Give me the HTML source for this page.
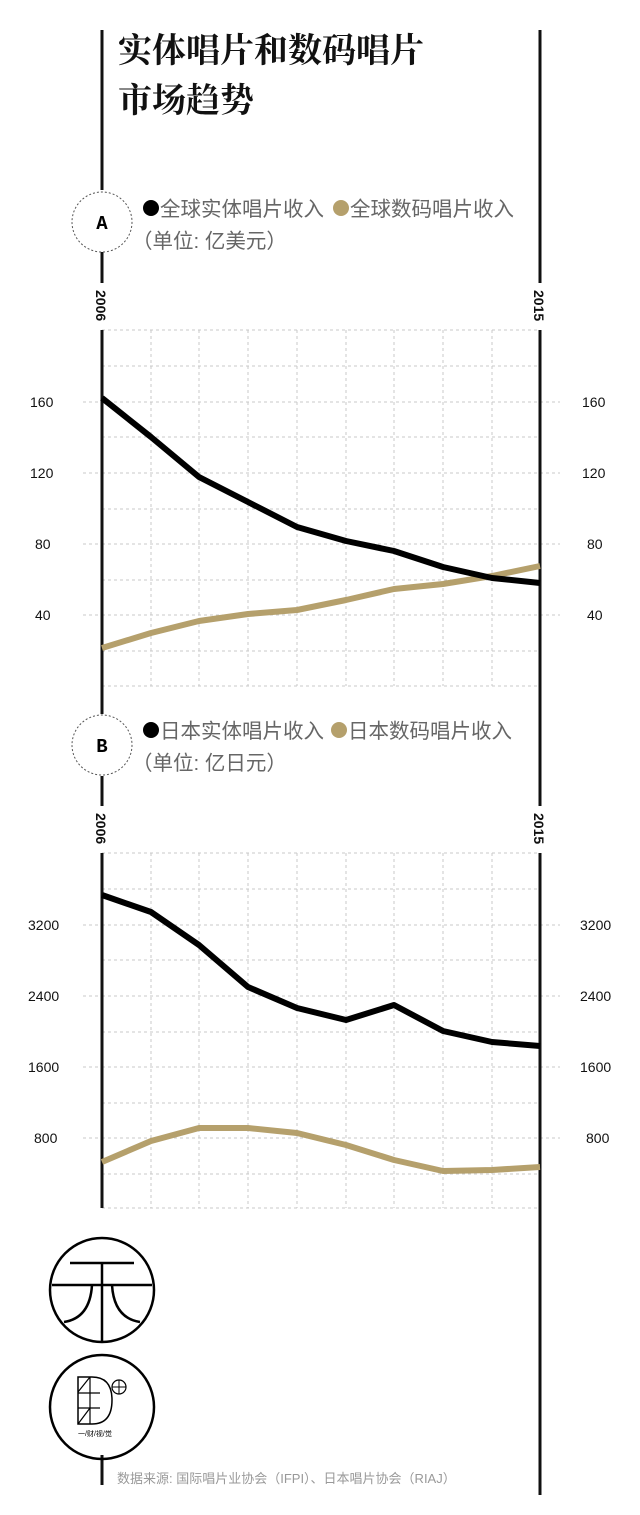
<!DOCTYPE html>
<html><head><meta charset="utf-8"><style>
html,body{margin:0;padding:0;background:#fff;}
svg{display:block;}
.t{font-family:"Liberation Serif","Noto Serif CJK SC",serif;}
.s{font-family:"Liberation Sans","Noto Sans CJK SC",sans-serif;}
</style></head><body>
<svg width="640" height="1515" viewBox="0 0 640 1515" xmlns="http://www.w3.org/2000/svg">
<rect width="640" height="1515" fill="#fff"/>
<g stroke="#c8c8c8" stroke-width="1" stroke-dasharray="3,3" fill="none">
<path d="M102 330H540M102 366H540M102 402H540M102 437H540M102 473H540M102 509H540M102 544H540M102 580H540M102 615H540M102 651H540M102 686H540"/>
<path d="M151 330V686M199 330V686M248 330V686M297 330V686M346 330V686M394 330V686M443 330V686M492 330V686"/>
<path d="M83 402H102M83 473H102M83 544H102M83 615H102M540 402H560M540 473H560M540 544H560M540 615H560"/>
<path d="M102 853H540M102 889H540M102 925H540M102 960H540M102 996H540M102 1032H540M102 1067H540M102 1103H540M102 1138H540M102 1174H540M102 1208H540"/>
<path d="M151 853V1208M199 853V1208M248 853V1208M297 853V1208M346 853V1208M394 853V1208M443 853V1208M492 853V1208"/>
<path d="M83 925H102M83 996H102M83 1067H102M83 1138H102M540 925H560M540 996H560M540 1067H560M540 1138H560"/>
</g>
<g stroke="#111" stroke-width="3">
<line x1="102" y1="30" x2="102" y2="190"/>
<line x1="102" y1="252" x2="102" y2="283"/>
<line x1="102" y1="330" x2="102" y2="714"/>
<line x1="102" y1="776" x2="102" y2="806"/>
<line x1="102" y1="853" x2="102" y2="1208"/>
<line x1="540" y1="30" x2="540" y2="283"/>
<line x1="540" y1="330" x2="540" y2="806"/>
<line x1="540" y1="853" x2="540" y2="1495"/>
<line x1="102" y1="1455" x2="102" y2="1485"/>
</g>
<text class="t" x="118" y="62" font-size="34" font-weight="bold" fill="#111">实体唱片和数码唱片</text>
<text class="t" x="118" y="112" font-size="34" font-weight="bold" fill="#111">市场趋势</text>
<circle cx="102" cy="222" r="30" fill="#fff" stroke="#555" stroke-width="1" stroke-dasharray="2,2"/>
<text x="102" y="229" font-family="Liberation Mono,monospace" font-weight="bold" font-size="19" text-anchor="middle">A</text>
<circle cx="102" cy="745" r="30" fill="#fff" stroke="#555" stroke-width="1" stroke-dasharray="2,2"/>
<text x="102" y="752" font-family="Liberation Mono,monospace" font-weight="bold" font-size="19" text-anchor="middle">B</text>
<circle cx="151" cy="208" r="8" fill="#000"/>
<text class="s" x="160" y="216" font-size="20.5" fill="#666">全球实体唱片收入</text>
<circle cx="341" cy="208" r="8" fill="#b5a06c"/>
<text class="s" x="350" y="216" font-size="20.5" fill="#666">全球数码唱片收入</text>
<text class="s" x="132" y="248" font-size="20.5" fill="#666">（单位: 亿美元）</text>
<circle cx="151" cy="730" r="8" fill="#000"/>
<text class="s" x="160" y="738" font-size="20.5" fill="#666">日本实体唱片收入</text>
<circle cx="339" cy="730" r="8" fill="#b5a06c"/>
<text class="s" x="348" y="738" font-size="20.5" fill="#666">日本数码唱片收入</text>
<text class="s" x="132" y="770" font-size="20.5" fill="#666">（单位: 亿日元）</text>
<g class="s" font-size="14" font-weight="bold" fill="#111">
<text transform="translate(96,290) rotate(90)">2006</text>
<text transform="translate(534,290) rotate(90)">2015</text>
<text transform="translate(96,813) rotate(90)">2006</text>
<text transform="translate(534,813) rotate(90)">2015</text>
</g>
<g class="s" font-size="14" fill="#111">
<text x="30" y="407">160</text><text x="30" y="478">120</text><text x="35" y="549">80</text><text x="35" y="620">40</text>
<text x="582" y="407">160</text><text x="582" y="478">120</text><text x="587" y="549">80</text><text x="587" y="620">40</text>
<text x="28" y="930">3200</text><text x="28" y="1001">2400</text><text x="28" y="1072">1600</text><text x="34" y="1143">800</text>
<text x="580" y="930">3200</text><text x="580" y="1001">2400</text><text x="580" y="1072">1600</text><text x="586" y="1143">800</text>
</g>
<g fill="none" stroke-width="6" stroke-linejoin="round">
<polyline stroke="#b5a06c" points="102,648 151,633 199,621 248,614 297,610 346,600 394,589 443,584 492,576 540,566"/>
<polyline stroke="#000" points="102,398 151,437 199,477 248,502 297,527 346,541 394,551 443,567 492,578 540,583"/>
<polyline stroke="#b5a06c" points="102,1162 151,1141 199,1128 248,1128 297,1133 346,1145 394,1160 443,1171 492,1170 540,1167"/>
<polyline stroke="#000" points="102,895 151,912 199,945 248,987 297,1008 346,1020 394,1005 443,1031 492,1042 540,1046"/>
</g>
<g fill="none" stroke="#000" stroke-width="2.5">
<ellipse cx="102" cy="1290" rx="52" ry="52"/>
<line x1="70" y1="1263" x2="134" y2="1263"/>
<line x1="52" y1="1285" x2="152" y2="1285"/>
<line x1="102" y1="1263" x2="102" y2="1342"/>
<path d="M92 1285 Q90 1318 64 1322"/>
<path d="M112 1285 Q114 1318 140 1322"/>
<ellipse cx="102" cy="1407" rx="52" ry="52"/>
<path d="M78 1377 V1424 H92 Q112 1424 112 1400 Q112 1377 92 1377 Z" stroke-width="1.5"/>
<path d="M78 1393H100M78 1408H100M90 1377V1424M78 1392L90 1377M78 1424L90 1408" stroke-width="1.2"/>
<circle cx="119" cy="1387" r="7" stroke-width="1.2"/>
<path d="M112 1387H126M119 1380V1394" stroke-width="1"/>
</g>
<text class="s" x="78" y="1436" font-size="7" fill="#000">一/财/视/觉</text>
<text class="s" x="117" y="1483" font-size="13" fill="#999">数据来源: 国际唱片业协会（IFPI）、日本唱片协会（RIAJ）</text>
</svg>
</body></html>
